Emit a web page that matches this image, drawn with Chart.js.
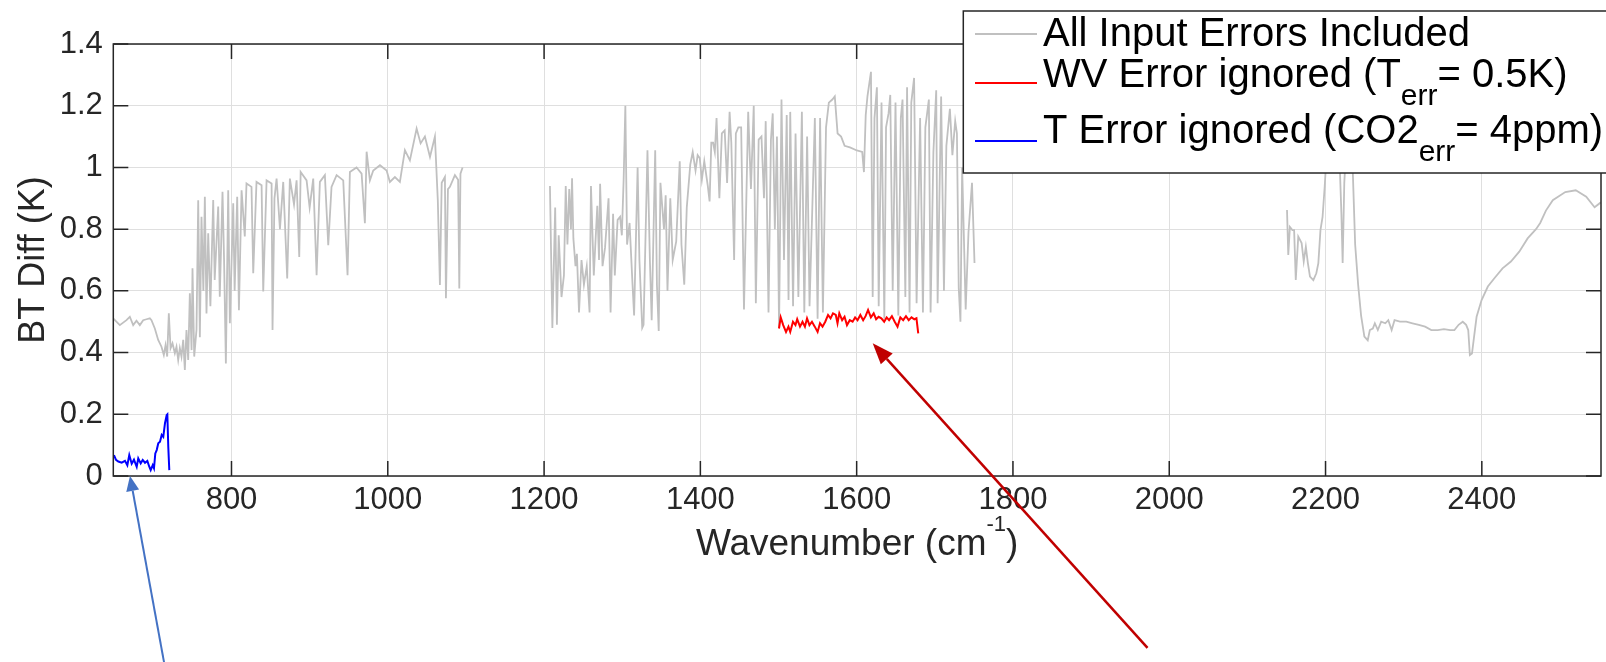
<!DOCTYPE html>
<html>
<head>
<meta charset="utf-8">
<script src="https://cdn.jsdelivr.net/npm/chart.js@4/dist/chart.umd.min.js"></script>
<style>
  html, body { margin: 0; padding: 0; background: #fff; }
  canvas { display: block; }
</style>
</head>
<body>
<canvas id="chart" width="1606" height="662"></canvas>
<script>
// All input errors included -- three CrIS bands (LW, MW, SW)
const lwX = [648.6, 657.1, 665.6, 669.9, 674.2, 678.4, 682.7, 687, 691.2, 695.5, 697.6, 701.9, 706.2, 710.4, 713.4, 715.6, 717.7, 719.8, 722, 724.5,
  727.5, 729.6, 731.8, 733.9, 736, 738.2, 740.3, 742.4, 744.6, 746.7, 748.9, 750.1, 752.3, 755.2, 757.4, 759.5, 761.6, 764, 765.9, 768,
  770.2, 773, 776.6, 778.5, 783, 785, 788.5, 790.5, 792.8, 795.8, 797.9, 802.2, 804, 807.3, 809.5, 812.9, 817, 819.2, 825.6, 827.8,
  832, 838.5, 840.6, 844.9, 851.3, 852.5, 855, 857.7, 862, 866.2, 871.3, 874.7, 880, 883.3, 886.7, 888.5, 896.1, 900, 904.6, 908.9,
  913.1, 919.5, 923.8, 928, 934.5, 943, 948.5, 951.5, 960, 966.5, 970.7, 972.9, 977.1, 981.4, 990, 998.5, 1002.7, 1009.1, 1015.5, 1021.9,
  1028.3, 1036.9, 1042, 1047.5, 1054, 1060.3, 1064, 1066.7, 1069, 1073.1, 1074.4, 1077, 1079.5, 1085.9, 1090, 1091.5, 1093, 1095.7];
const lwY = [0.511, 0.489, 0.505, 0.516, 0.489, 0.503, 0.489, 0.505, 0.508, 0.511, 0.505, 0.478, 0.441, 0.419, 0.392, 0.424, 0.387, 0.527, 0.414, 0.43,
  0.398, 0.419, 0.376, 0.414, 0.387, 0.441, 0.344, 0.473, 0.376, 0.592, 0.408, 0.673, 0.387, 0.473, 0.894, 0.45, 0.84, 0.6, 0.905, 0.527,
  0.787, 0.55, 0.894, 0.635, 0.873, 0.581, 0.921, 0.7, 0.365, 0.926, 0.495, 0.884, 0.6, 0.905, 0.537, 0.926, 0.776, 0.948, 0.937, 0.657,
  0.953, 0.942, 0.598, 0.958, 0.948, 0.473, 0.9, 0.964, 0.8, 0.953, 0.64, 0.964, 0.88, 0.958, 0.71, 0.985, 0.958, 0.87, 0.964, 0.651,
  0.953, 0.975, 0.748, 0.937, 0.975, 0.958, 0.651, 0.985, 1.0, 0.98, 0.819, 1.051, 0.958, 0.99, 1.007, 0.99, 0.953, 0.969, 0.953, 1.056,
  1.023, 1.126, 1.078, 1.1, 1.034, 1.1, 0.894, 0.619, 0.95, 0.969, 0.576, 0.93, 0.937, 0.975, 0.96, 0.608, 0.98, 1.0];

const mwX = [1207.5, 1210.6, 1214.2, 1216.4, 1218.7, 1222.3, 1225.4, 1227.7, 1229.9, 1232.2, 1234.4, 1235.8, 1237.5, 1240.2, 1242, 1244.7, 1247.9, 1251, 1254.6, 1258.2,
  1260, 1263.6, 1268.1, 1270.3, 1271.7, 1274.8, 1278, 1282.5, 1285.1, 1288.3, 1290.5, 1294.1, 1297.3, 1299.5, 1301.8, 1304, 1306.2, 1309.4, 1313, 1315.2,
  1319.7, 1322, 1325.6, 1327.3, 1332.3, 1335.4, 1337.7, 1342.2, 1344.4, 1346.7, 1348.9, 1353.4, 1355.6, 1357.9, 1361.5, 1364.6, 1369.1, 1373.6, 1375.8, 1379.4,
  1382.6, 1387.1, 1390.2, 1393.8, 1396.5, 1399.2, 1401.9, 1405, 1409.5, 1411.8, 1414, 1416.3, 1418.5, 1420.7, 1424.3, 1427.5, 1431.1, 1434.2, 1437.4, 1439.6,
  1443.2, 1445.4, 1448.6, 1452.2, 1455.8, 1461.2, 1464.7, 1468.3, 1471, 1474.6, 1478.2, 1481.4, 1483.6, 1487.2, 1490.3, 1492.6, 1495.3, 1498, 1500.7, 1503.8,
  1507, 1510.5, 1512.8, 1515, 1518.6, 1521.8, 1525.4, 1529.9, 1533, 1536.6, 1539.7, 1546.5, 1550, 1553.2, 1556.8, 1560.8, 1564.4, 1568.9, 1572, 1575.6,
  1580.1, 1584.6, 1591.4, 1600.3, 1607.1, 1609.3, 1611.6, 1613.8, 1618.3, 1620.5, 1622.8, 1625.9, 1628.2, 1631.8, 1635.4, 1637.6, 1640.8, 1643, 1646.1, 1649.7,
  1653.3, 1656.5, 1658.7, 1662.3, 1664.5, 1667.7, 1669.9, 1673.5, 1676.7, 1681.2, 1684.8, 1687.9, 1692.4, 1694.6, 1698.2, 1701.8, 1703.6, 1708.1, 1711.7, 1714.8,
  1719.3, 1722.5, 1726.1, 1728.3, 1730.6, 1732.8, 1735, 1739.5, 1743.1, 1747.6, 1750.8];
const mwY = [0.94, 0.48, 0.87, 0.49, 0.78, 0.58, 0.65, 0.94, 0.75, 0.93, 0.8, 0.965, 0.77, 0.68, 0.72, 0.53, 0.7, 0.62, 0.68, 0.53,
  0.94, 0.65, 0.876, 0.7, 0.947, 0.68, 0.74, 0.9, 0.53, 0.85, 0.65, 0.83, 0.84, 0.78, 0.96, 1.2, 0.75, 0.82, 0.63, 0.52,
  1.0, 0.7, 0.48, 0.49, 1.056, 0.7, 0.505, 1.056, 0.62, 0.47, 0.95, 0.8, 0.91, 0.6, 0.9, 0.7, 0.76, 1.02, 0.75, 0.62,
  0.87, 1.01, 1.05, 0.99, 1.04, 1.03, 0.96, 1.02, 0.94, 0.89, 1.08, 1.08, 1.05, 1.16, 0.9, 1.11, 1.12, 0.95, 1.18, 1.08,
  0.7, 1.11, 1.13, 1.13, 0.54, 1.18, 0.93, 1.2, 0.56, 1.09, 1.1, 0.9, 1.15, 0.53, 1.09, 1.175, 0.8, 1.1, 0.48, 1.22,
  0.7, 1.17, 0.57, 1.18, 0.55, 1.11, 0.58, 1.18, 0.53, 1.1, 0.55, 1.16, 0.51, 1.16, 0.53, 1.13, 1.21, 1.22, 1.23, 1.11,
  1.1, 1.07, 1.065, 1.055, 1.05, 0.985, 1.17, 1.23, 1.31, 0.58, 1.16, 1.26, 0.55, 1.21, 0.51, 1.13, 1.175, 1.235, 0.6, 1.21,
  0.52, 1.16, 1.22, 0.58, 1.26, 0.53, 1.21, 1.29, 0.56, 1.16, 0.53, 1.13, 1.22, 0.53, 1.05, 1.25, 0.56, 1.23, 0.6, 1.07,
  1.19, 1.04, 1.15, 1.11, 0.61, 0.5, 1.0, 0.54, 0.79, 0.95, 0.69];

const swX = [2150.7, 2152.3, 2154.4, 2157.6, 2159.8, 2161.9, 2165.1, 2169.4, 2172.1, 2174.8, 2177.4, 2180.1, 2184.4, 2188.2, 2190.8, 2193.5, 2196.2, 2198.9, 2201.5, 2204.2,
  2208, 2212.2, 2217.6, 2220.3, 2221.9, 2224, 2227.2, 2231, 2234.7, 2237.9, 2241.7, 2245.5, 2249.7, 2254, 2256.7, 2260.5, 2263.1, 2266.9, 2271.2, 2276.5,
  2280.3, 2284.6, 2288.3, 2295.3, 2303.3, 2311.3, 2319.4, 2327.4, 2335.4, 2343.5, 2351.5, 2359.5, 2364.9, 2370.3, 2375.6, 2379.9, 2382.6, 2384.7, 2387.4, 2390.1,
  2393.3, 2399.7, 2407.7, 2415.8, 2426.5, 2437.2, 2447.9, 2458.6, 2469.3, 2474.7, 2482, 2490.8, 2506.8, 2520.2, 2533.6, 2544.3, 2552.4];
const swY = [0.862, 0.716, 0.807, 0.797, 0.797, 0.635, 0.776, 0.755, 0.695, 0.743, 0.69, 0.646, 0.635, 0.657, 0.69, 0.797, 0.84, 0.937, 1.05, 1.1,
  1.08, 1.1, 1.05, 0.85, 0.69, 0.95, 1.1, 1.08, 1.0, 0.75, 0.62, 0.52, 0.452, 0.44, 0.473, 0.478, 0.495, 0.473, 0.5, 0.495,
  0.505, 0.473, 0.505, 0.5, 0.5, 0.495, 0.49, 0.484, 0.473, 0.473, 0.476, 0.473, 0.473, 0.49, 0.5, 0.49, 0.473, 0.392, 0.397, 0.452,
  0.516, 0.57, 0.614, 0.64, 0.673, 0.695, 0.727, 0.77, 0.8, 0.82, 0.86, 0.894, 0.92, 0.926, 0.905, 0.871, 0.887];

// WV error ignored
const wvX = [1500.6, 1502.8, 1506, 1509.6, 1512.7, 1515, 1518.5, 1521.7, 1523.9, 1527.5, 1530.7, 1533.8, 1536.5, 1539.6, 1542.8, 1546.4, 1550, 1553.1, 1556.3, 1559.8,
  1563.4, 1566.6, 1569.7, 1573.3, 1575.5, 1577.8, 1581.4, 1584.5, 1587.6, 1591.2, 1594.8, 1598, 1601.1, 1604.7, 1608.3, 1611.4, 1614.6, 1618.2, 1621.8, 1624.9,
  1628.1, 1631.6, 1635.2, 1638.4, 1641.5, 1645.1, 1648.7, 1652.3, 1655.9, 1659.5, 1663.1, 1666.6, 1670.2, 1673.8, 1676.5, 1678.8];
const wvY = [0.478, 0.514, 0.489, 0.467, 0.484, 0.467, 0.5, 0.489, 0.508, 0.484, 0.5, 0.484, 0.511, 0.489, 0.5, 0.484, 0.467, 0.495, 0.484, 0.5,
  0.522, 0.511, 0.527, 0.522, 0.495, 0.527, 0.505, 0.516, 0.489, 0.505, 0.5, 0.514, 0.505, 0.522, 0.505, 0.518, 0.538, 0.514, 0.527, 0.508,
  0.516, 0.511, 0.5, 0.514, 0.505, 0.518, 0.5, 0.484, 0.514, 0.505, 0.518, 0.505, 0.514, 0.508, 0.511, 0.462];

// T error ignored
const tX = [649.6, 652.2, 655.2, 659.5, 663.7, 666.7, 669.2, 672.3, 675.2, 678.7, 680.7, 683.8, 686.4, 689.3, 692.3, 694.8, 696.6, 699.2, 700.8, 702.5,
  704.3, 706.3, 708.5, 710.7, 712.7, 714.9, 717.1, 717.9, 719.1, 720.4];
const tY = [0.068, 0.052, 0.047, 0.043, 0.049, 0.035, 0.068, 0.04, 0.053, 0.03, 0.057, 0.041, 0.052, 0.043, 0.049, 0.03, 0.019, 0.035, 0.025, 0.073,
  0.084, 0.106, 0.111, 0.133, 0.127, 0.171, 0.198, 0.2, 0.095, 0.019];

const xTicks = [800, 1000, 1200, 1400, 1600, 1800, 2000, 2200, 2400];
const xTickLabels = ['800', '1000', '1200', '1400', '1600', '1800', '2000', '2200', '2400'];
const yTicks = [0, 0.2, 0.4, 0.6, 0.8, 1, 1.2, 1.4];
const yTickLabels = ['0', '0.2', '0.4', '0.6', '0.8', '1', '1.2', '1.4'];

// arrows: [tailX, tailY, tipX, tipY] in data units
const blueArrow = [714.3, -0.612, 670.1, 0.0];
const redArrow = [1972.2, -0.557, 1620.5, 0.43];

const FONT = '"Liberation Sans", Arial, Helvetica, sans-serif';
const AXIS = '#262626';

function pts(xs, ys) {
  return xs.map((v, i) => ({ x: v, y: ys[i] }));
}
// gaps between the bands
const grayData = pts(lwX, lwY).concat([{ x: 1150, y: null }], pts(mwX, mwY), [{ x: 1950, y: null }], pts(swX, swY));

function arrow(ctx, chart, a, color, width, headLen, headW) {
  const { x, y } = chart.scales;
  const x0 = x.getPixelForValue(a[0]), y0 = y.getPixelForValue(a[1]);
  const x1 = x.getPixelForValue(a[2]), y1 = y.getPixelForValue(a[3]);
  const ang = Math.atan2(y1 - y0, x1 - x0);
  const bx = x1 - headLen * Math.cos(ang), by = y1 - headLen * Math.sin(ang);
  ctx.strokeStyle = color;
  ctx.fillStyle = color;
  ctx.lineWidth = width;
  ctx.beginPath();
  ctx.moveTo(x0, y0);
  ctx.lineTo(bx, by);
  ctx.stroke();
  ctx.beginPath();
  ctx.moveTo(x1, y1);
  ctx.lineTo(bx + headW / 2 * Math.sin(ang), by - headW / 2 * Math.cos(ang));
  ctx.lineTo(bx - headW / 2 * Math.sin(ang), by + headW / 2 * Math.cos(ang));
  ctx.closePath();
  ctx.fill();
}

const decor = {
  id: 'decor',
  afterDatasetsDraw(chart) {
    const { ctx, chartArea: a, scales: { x, y } } = chart;
    ctx.save();
    ctx.strokeStyle = AXIS;
    ctx.lineWidth = 1.5;
    ctx.beginPath();
    xTicks.forEach(v => {
      const px = x.getPixelForValue(v);
      ctx.moveTo(px, a.bottom); ctx.lineTo(px, a.bottom - 15);
      ctx.moveTo(px, a.top); ctx.lineTo(px, a.top + 15);
    });
    yTicks.forEach(v => {
      const py = y.getPixelForValue(v);
      ctx.moveTo(a.left, py); ctx.lineTo(a.left + 15, py);
      ctx.moveTo(a.right, py); ctx.lineTo(a.right - 15, py);
    });
    ctx.stroke();
    ctx.strokeRect(a.left, a.top, a.right - a.left, a.bottom - a.top);
    ctx.restore();
  },
  afterDraw(chart) {
    const { ctx, chartArea: a } = chart;
    ctx.save();
    // axis titles
    ctx.fillStyle = AXIS;
    ctx.textBaseline = 'alphabetic';
    ctx.font = '37px ' + FONT;
    const t1 = 'Wavenumber (cm', t3 = ')';
    const w1 = ctx.measureText(t1).width, w3 = ctx.measureText(t3).width;
    ctx.font = '22px ' + FONT;
    const w2 = ctx.measureText('-1').width;
    let sx = (a.left + a.right) / 2 - (w1 + w2 + w3) / 2;
    ctx.font = '37px ' + FONT;
    ctx.textAlign = 'left';
    ctx.fillText(t1, sx, 555);
    ctx.font = '22px ' + FONT;
    ctx.fillText('-1', sx + w1, 531);
    ctx.font = '37px ' + FONT;
    ctx.fillText(t3, sx + w1 + w2, 555);

    ctx.save();
    ctx.translate(43.5, (a.top + a.bottom) / 2);
    ctx.rotate(-Math.PI / 2);
    ctx.textAlign = 'center';
    ctx.font = '36px ' + FONT;
    ctx.fillText('BT Diff (K)', 0, 0);
    ctx.restore();

    // legend
    const ds = chart.data.datasets;
    ctx.fillStyle = '#fff';
    ctx.fillRect(963.3, 11, 660, 162);
    ctx.strokeStyle = AXIS;
    ctx.lineWidth = 1.5;
    ctx.strokeRect(963.3, 11, 660, 162);
    const rows = [
      { ds: ds[2], ly: 34, base: 46, parts: ['All Input Errors Included'] },
      { ds: ds[0], ly: 83, base: 87, parts: ['WV Error ignored (T', 'err', '= 0.5K)'] },
      { ds: ds[1], ly: 141, base: 143, parts: ['T Error ignored (CO2', 'err', '= 4ppm)'] }
    ];
    rows.forEach(r => {
      ctx.strokeStyle = r.ds.borderColor;
      ctx.lineWidth = r.ds.borderWidth;
      ctx.beginPath();
      ctx.moveTo(975, r.ly);
      ctx.lineTo(1037, r.ly);
      ctx.stroke();
      ctx.fillStyle = '#000';
      let tx = 1043;
      r.parts.forEach((p, i) => {
        const sub = i === 1;
        ctx.font = (sub ? '30px ' : '40px ') + FONT;
        ctx.fillText(p, tx, sub ? r.base + 18 : r.base);
        tx += ctx.measureText(p).width;
      });
    });

    // arrows
    arrow(ctx, chart, blueArrow, '#4472C4', 2, 15, 13);
    arrow(ctx, chart, redArrow, '#C00000', 2.5, 21, 16);
    ctx.restore();
  }
};

new Chart(document.getElementById('chart'), {
  type: 'line',
  data: {
    datasets: [
      { label: 'WV Error ignored', data: pts(wvX, wvY), borderColor: '#ff0000', borderWidth: 2, order: 2 },
      { label: 'T Error ignored', data: pts(tX, tY), borderColor: '#0000ff', borderWidth: 2, order: 1 },
      { label: 'All Input Errors Included', data: grayData, borderColor: '#c0c0c0', borderWidth: 1.8, order: 3 }
    ]
  },
  options: {
    responsive: false,
    animation: false,
    devicePixelRatio: 1,
    spanGaps: false,
    elements: { point: { radius: 0 }, line: { tension: 0 } },
    layout: { autoPadding: false, padding: { top: 44, right: 5, bottom: 0, left: 0 } },
    plugins: { legend: { display: false }, tooltip: { enabled: false } },
    scales: {
      x: {
        type: 'linear',
        min: 648.75,
        max: 2552.5,
        afterBuildTicks: s => { s.ticks = xTicks.map(v => ({ value: v })); },
        afterFit: s => { s.height = 186; },
        ticks: { autoSkip: false, maxRotation: 0, minRotation: 0, padding: 6, color: AXIS, font: { size: 31, family: FONT },
          callback: (v, i) => xTickLabels[i] },
        grid: { color: '#dfdfdf', lineWidth: 1, drawTicks: false },
        border: { display: false }
      },
      y: {
        min: 0,
        max: 1.4,
        afterBuildTicks: s => { s.ticks = yTicks.map(v => ({ value: v })); },
        afterFit: s => { s.width = 113.3; },
        ticks: { padding: 10.5, color: AXIS, font: { size: 31, family: FONT }, callback: (v, i) => yTickLabels[i] },
        grid: { color: '#dfdfdf', lineWidth: 1, drawTicks: false },
        border: { display: false }
      }
    }
  },
  plugins: [decor]
});
</script>
</body>
</html>
